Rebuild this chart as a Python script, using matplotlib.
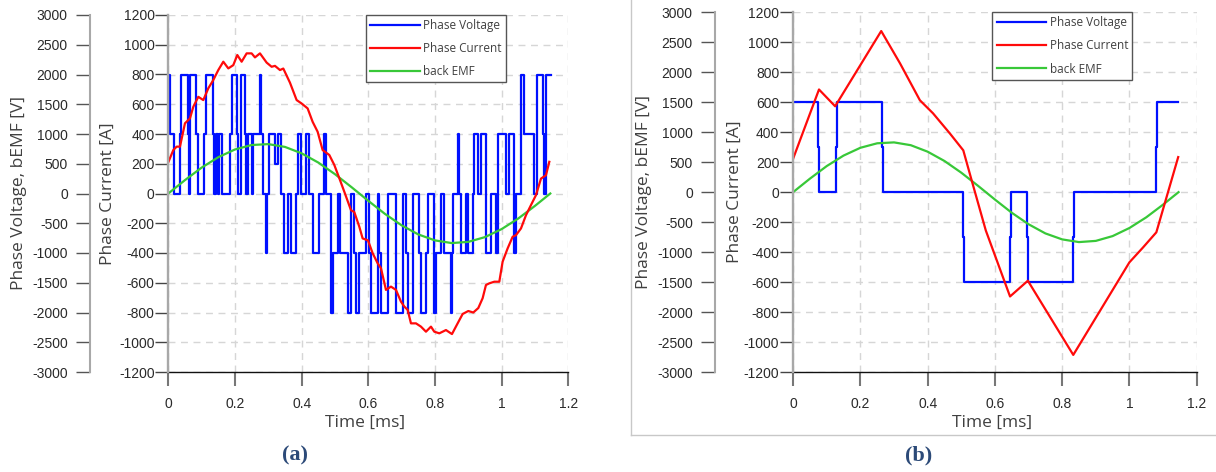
import matplotlib
matplotlib.use("Agg")
import matplotlib.pyplot as plt
from matplotlib.lines import Line2D

plt.rcParams['font.family'] = ['Liberation Sans', 'DejaVu Sans']
plt.rcParams['axes.unicode_minus'] = False

# ---------------- data: panel (a) ----------------
a_volt_t = [0.000, 0.005, 0.016, 0.034, 0.038, 0.058, 0.061, 0.065, 0.084, 0.090,
            0.108, 0.113, 0.133, 0.138, 0.143, 0.148, 0.152, 0.162, 0.186, 0.192,
            0.206, 0.209, 0.218, 0.230, 0.234, 0.238, 0.250, 0.254, 0.276, 0.278,
            0.283, 0.293, 0.296, 0.303, 0.321, 0.328, 0.338, 0.348, 0.358, 0.368,
            0.383, 0.388, 0.398, 0.413, 0.423, 0.433, 0.453, 0.468, 0.473, 0.488,
            0.493, 0.508, 0.516, 0.538, 0.548, 0.558, 0.563, 0.573, 0.593, 0.603,
            0.608, 0.628, 0.633, 0.638, 0.658, 0.683, 0.703, 0.713, 0.718, 0.733,
            0.753, 0.758, 0.773, 0.778, 0.798, 0.803, 0.818, 0.828, 0.848, 0.851,
            0.853, 0.869, 0.872, 0.878, 0.893, 0.898, 0.913, 0.918, 0.928, 0.938,
            0.953, 0.968, 0.983, 0.990, 1.013, 1.021, 1.038, 1.043, 1.058, 1.068,
            1.098, 1.105, 1.123, 1.126, 1.133, 1.147]
a_volt_v = [2000, 1000, 0, 1000, 2000, 1000, 0, 2000, 1000, 0,
            1000, 2000, 1000, 0, 1000, 0, 1000, 0, 1000, 2000,
            1000, 0, 2000, 1000, 0, 1000, 0, 1000, 2000, 1000,
            0, -1000, 0, 1000, 500, 1000, 0, -1000, 0, -1000,
            0, 1000, 0, 1000, 0, -1000, 0, 1000, 0, -2000,
            -1000, 0, -1000, -2000, 0, -1000, -2000, -1000, 0, -1000,
            -2000, 0, -1000, -2000, 0, -2000, 0, -1000, -2000, 0,
            -1000, -2000, -1000, 0, -2000, -1000, 0, -1000, -2000, -1000,
            0, 1000, 0, -1000, 0, -1000, 0, 1000, 0, 1000,
            -1000, 0, -1000, 1000, 0, 1000, -1000, 0, 2000, 1000,
            0, 2000, 1000, 0, 2000, 2000]

a_cur_t = [0.000, 0.015, 0.025, 0.035, 0.050, 0.065, 0.075, 0.090, 0.105, 0.120,
           0.135, 0.150, 0.165, 0.180, 0.195, 0.207, 0.220, 0.235, 0.250, 0.260,
           0.275, 0.295, 0.310, 0.320, 0.335, 0.345, 0.365, 0.385, 0.400, 0.418,
           0.433, 0.448, 0.463, 0.483, 0.498, 0.513, 0.528, 0.548, 0.558, 0.573,
           0.583, 0.599, 0.613, 0.628, 0.638, 0.653, 0.668, 0.683, 0.698, 0.708,
           0.718, 0.728, 0.743, 0.758, 0.773, 0.788, 0.798, 0.813, 0.833, 0.851,
           0.868, 0.883, 0.900, 0.915, 0.930, 0.943, 0.953, 0.963, 0.978, 0.993,
           1.003, 1.018, 1.033, 1.043, 1.058, 1.073, 1.088, 1.103, 1.118, 1.133,
           1.143]
a_cur_i = [210, 292, 315, 315, 472, 505, 583, 650, 628, 707,
           763, 830, 886, 841, 863, 931, 886, 942, 942, 915,
           942, 880, 852, 858, 830, 840, 745, 628, 605, 572,
           482, 415, 292, 259, 192, 103, 12, -112, -125, -223,
           -302, -315, -401, -469, -502, -648, -626, -648, -727, -760,
           -782, -873, -873, -895, -929, -895, -929, -940, -918, -945,
           -873, -810, -790, -800, -770, -704, -615, -604, -593, -593,
           -458, -369, -291, -280, -235, -146, -78, -11, 100, 123,
           213]

# back EMF (shared shape in both panels), volts
emf_t = [0.00, 0.05, 0.10, 0.15, 0.20, 0.25, 0.30, 0.35, 0.40, 0.45, 0.50, 0.55,
         0.60, 0.65, 0.70, 0.75, 0.80, 0.85, 0.90, 0.95, 1.00, 1.05, 1.10, 1.146]
emf_v = [0, 225, 435, 610, 740, 815, 830, 783, 675, 520, 325, 105,
         -123, -343, -535, -688, -788, -833, -813, -733, -598, -420, -208, 0]

# ---------------- data: panel (b) ----------------
b_volt_t = [0.000, 0.0734, 0.0760, 0.128, 0.131, 0.264, 0.267, 0.506, 0.509,
            0.645, 0.648, 0.695, 0.698, 0.833, 0.836, 1.078, 1.081, 1.144]
b_volt_v = [1500, 750, 0, 750, 1500, 750, 0, -750, -1500,
            -750, 0, -750, -1500, -750, 0, 750, 1500, 1500]

b_cur_t = [0.000, 0.077, 0.125, 0.262, 0.318, 0.377, 0.416, 0.466, 0.506,
           0.531, 0.573, 0.645, 0.698, 0.833, 1.000, 1.040, 1.080, 1.145]
b_cur_i = [223, 685, 573, 1075, 859, 613, 526, 392, 279,
           78, -256, -696, -591, -1086, -468, -370, -268, 234]

x_ticks = [0, 0.2, 0.4, 0.6, 0.8, 1.0, 1.2]
x_tick_labels = ["0", "0.2", "0.4", "0.6", "0.8", "1", "1.2"]
v_ticks = list(range(-3000, 3001, 500))
i_ticks = list(range(-1200, 1201, 200))
series_names = ["Phase Voltage", "Phase Current", "back EMF"]

W, H = 1216, 472
fig = plt.figure(figsize=(W / 100, H / 100), dpi=100)

BLUE = "#0010ff"
RED = "#ff0a0a"
GREEN = "#38c838"
LABEL_FONT = "Open Sans"
TXT = "#404040"


def panel(l, r, t, b, vspine_x, vt, vv, ct, ci, vlabel_x, clabel_x, caption, cap_x):
    ax = fig.add_axes([l / W, 1 - b / H, (r - l) / W, (b - t) / H])
    ax.set_xlim(0, 1.2)
    ax.set_ylim(-3000, 3000)
    ax.set_xticks(x_ticks)
    ax.set_xticklabels(x_tick_labels)
    ax.set_yticks(v_ticks)
    ax.set_axisbelow(True)
    ax.grid(True, color="#d6d6d6", linestyle=(0, (5, 4)), linewidth=1.0)
    for s in ("top", "right"):
        ax.spines[s].set_visible(False)
    ax.spines["bottom"].set_color("#111111")
    ax.spines["bottom"].set_linewidth(1.0)
    ax.spines["left"].set_position(("axes", (vspine_x - l) / (r - l)))
    ax.spines["left"].set_color("#a8a8a8")
    ax.spines["left"].set_linewidth(1.5)
    ax.tick_params(axis="y", direction="out", length=10, width=1, color="#555555",
                   pad=6, labelsize=10, labelcolor="#2a2a2a")
    ax.tick_params(axis="x", direction="out", length=10, width=1.5, color="#777777",
                   pad=8, labelsize=10, labelcolor="#2a2a2a")
    hv, = ax.step(vt, vv, where="post", color=BLUE, lw=1.6)
    he, = ax.plot(emf_t, emf_v, color=GREEN, lw=1.6)

    axc = ax.twinx()
    axc.set_ylim(-1200, 1200)
    axc.set_yticks(i_ticks)
    for s in ("top", "right", "bottom"):
        axc.spines[s].set_visible(False)
    axc.spines["left"].set_visible(True)
    axc.spines["left"].set_position(("axes", 0))
    axc.spines["left"].set_color("#a8a8a8")
    axc.spines["left"].set_linewidth(1.7)
    axc.yaxis.set_ticks_position("left")
    axc.yaxis.set_label_position("left")
    axc.tick_params(axis="y", which="both", left=True, right=False, labelleft=True,
                    labelright=False, direction="out", length=9.4, width=1,
                    color="#444444", pad=0.5, labelsize=10, labelcolor="#2a2a2a")
    hc, = axc.plot(ct, ci, color=RED, lw=1.6)

    leg = axc.legend([hv, hc, he], series_names, loc="upper left",
                     bbox_to_anchor=(0.494, 1.0), borderaxespad=0, frameon=True,
                     fancybox=False, edgecolor="#555555", framealpha=1,
                     prop={"family": LABEL_FONT, "size": 8.5}, handlelength=4.2,
                     handletextpad=0.3, borderpad=0.35, labelspacing=0.85)
    leg.get_frame().set_linewidth(1.0)
    for txt in leg.get_texts():
        txt.set_color(TXT)

    yc = 1 - ((t + b) / 2) / H
    fig.text(vlabel_x / W, yc, "Phase Voltage, bEMF [V]", rotation=90, ha="center",
             va="center", family=LABEL_FONT, size=12.5, color=TXT)
    fig.text(clabel_x / W, yc, "Phase Current [A]", rotation=90, ha="center",
             va="center", family=LABEL_FONT, size=12.5, color=TXT)
    fig.text(((l + r) / 2 - 3) / W, 1 - 423 / H, "Time [ms]", ha="center", va="center",
             family=LABEL_FONT, size=12.5, color=TXT)
    fig.text(cap_x / W, 1 - 455 / H, caption, ha="center", va="center",
             family="Liberation Serif", weight="bold", size=16, color="#2c4a78")
    return ax, axc


panel(168.3, 568.3, 15, 372, 90, a_volt_t, a_volt_v, a_cur_t, a_cur_i,
      19, 108, "(a)", 295)
panel(793.1, 1196.7, 12.3, 372, 715, b_volt_t, b_volt_v, b_cur_t, b_cur_i,
      643.5, 734.5, "(b)", 919)

# light frame around panel (b)
fig.add_artist(Line2D([631 / W, 631 / W], [1 - 435 / H, 1.0], transform=fig.transFigure,
                      color="#c8c8c8", lw=1))
fig.add_artist(Line2D([631 / W, 1.0], [1 - 435 / H, 1 - 435 / H], transform=fig.transFigure,
                      color="#c8c8c8", lw=1))

fig.savefig("out.png", dpi=100)
